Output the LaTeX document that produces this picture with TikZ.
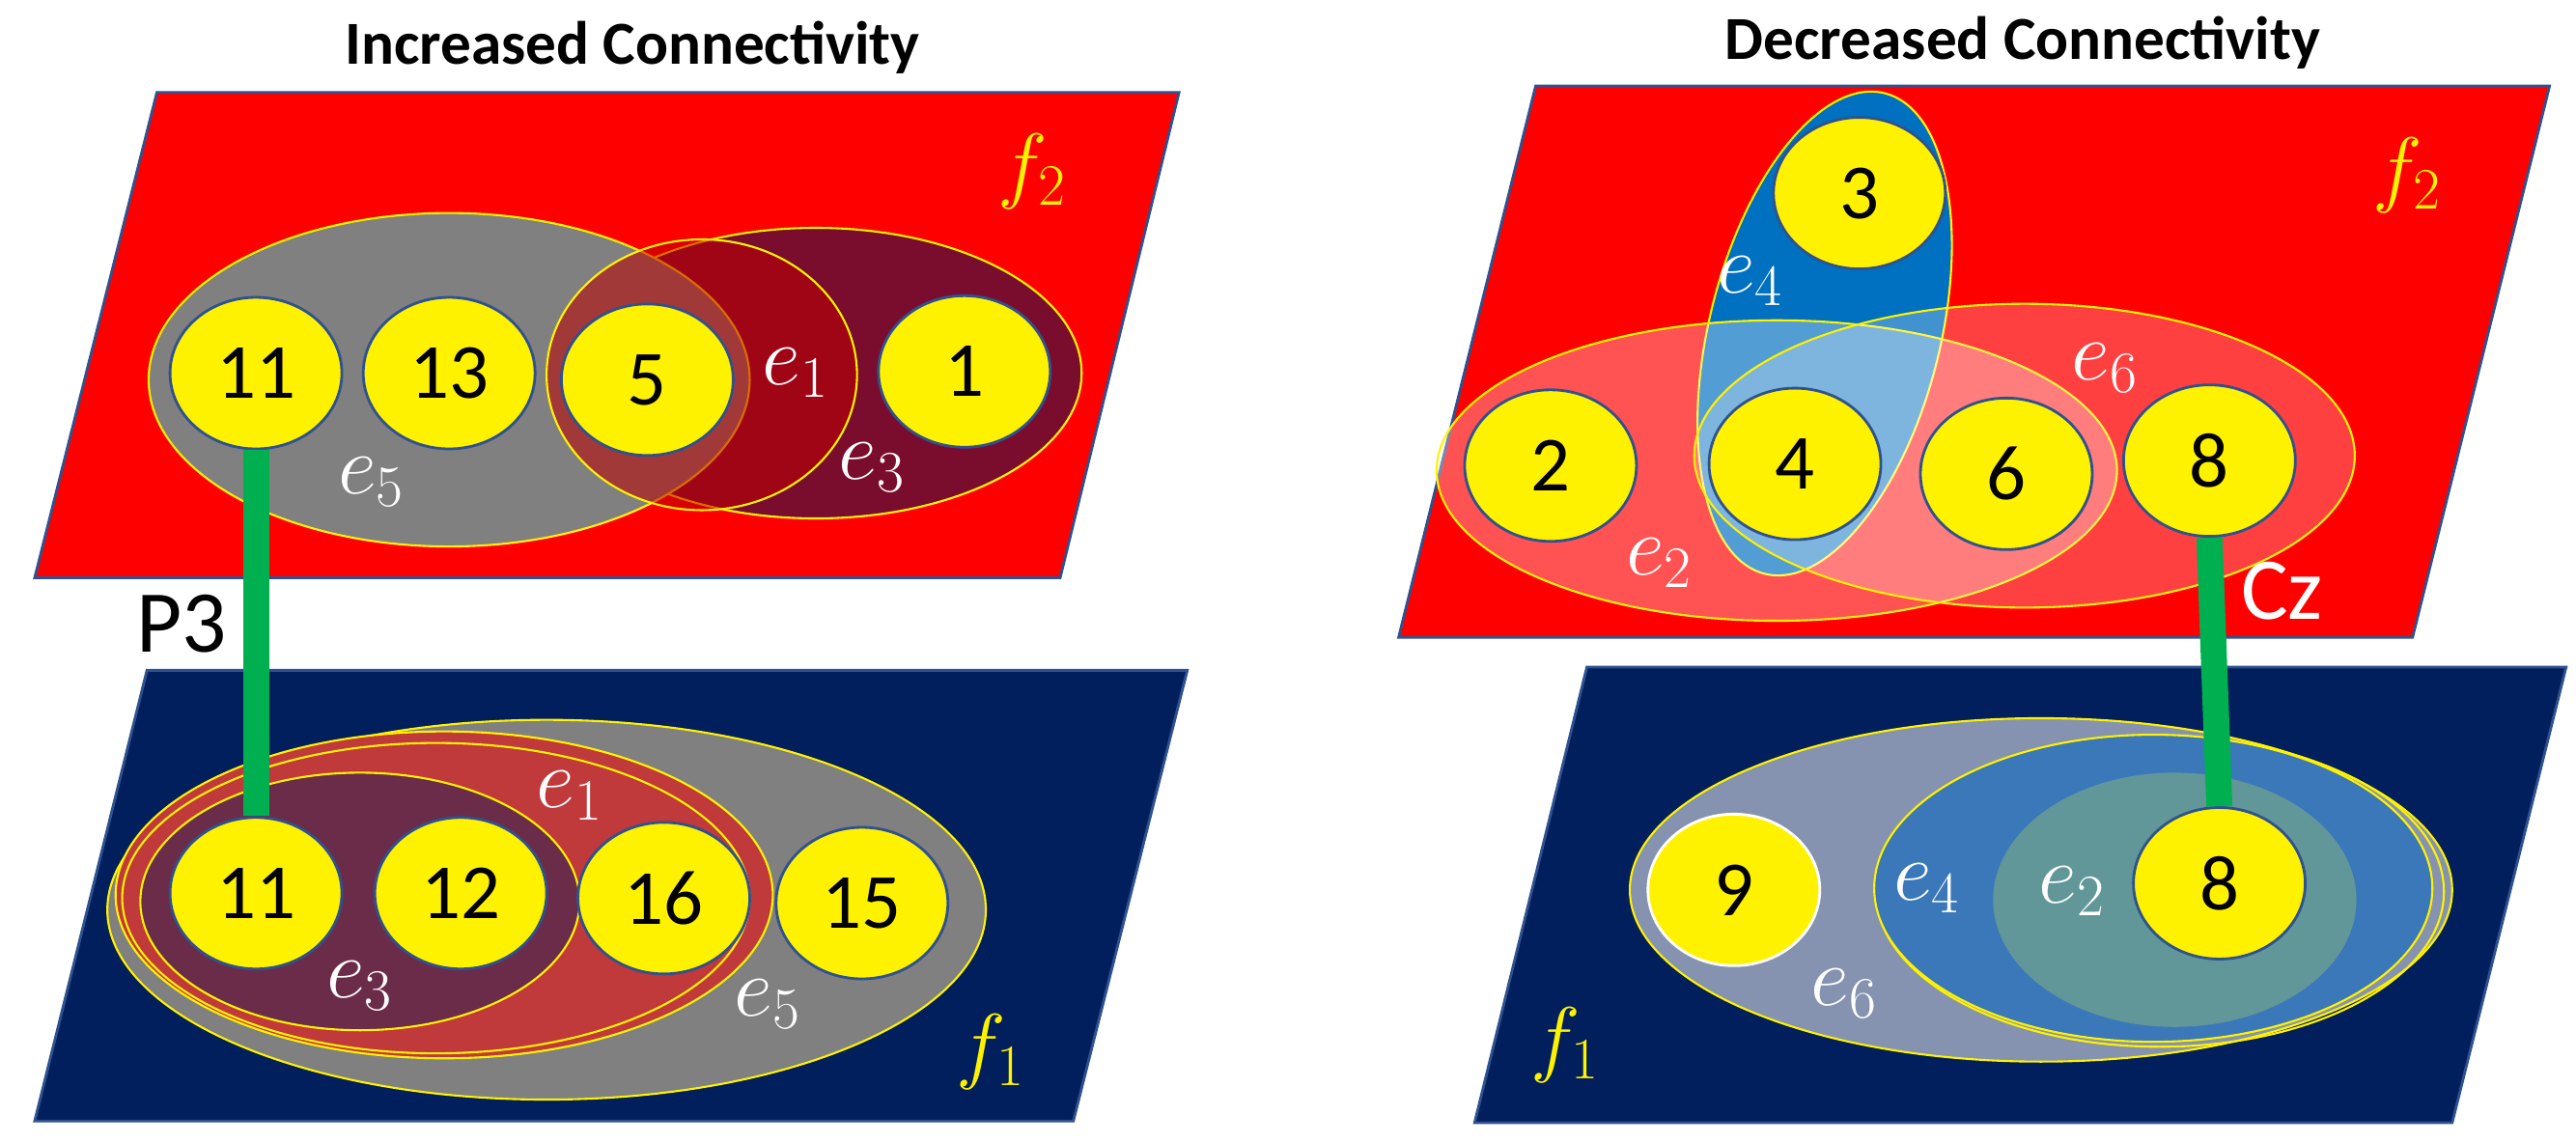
\documentclass[tikz,border=0pt]{standalone}
\usepackage{fontspec}
\setmainfont{Carlito}
\usetikzlibrary{shapes.geometric}
\definecolor{planered}{HTML}{FF0000}
\definecolor{planeblue}{HTML}{001F5C}
\definecolor{rim}{HTML}{2F528F}
\definecolor{maroon}{HTML}{7A0C2E}
\definecolor{plum}{HTML}{6B2C4A}
\definecolor{brick}{HTML}{C0393B}
\definecolor{hblue}{HTML}{0070C0}
\definecolor{midblue}{HTML}{3A78BA}
\definecolor{teal}{HTML}{62979A}
\definecolor{slate}{HTML}{8593B0}
\definecolor{linkgreen}{HTML}{00B050}
\tikzset{
  plane/.style={draw=rim,line width=0.8pt},
  edge/.style={draw=yellow,line width=0.6pt},
  vtx/.style={ellipse,fill=yellow,draw=rim,line width=0.8pt,
    minimum width=1.78cm,minimum height=1.57cm,inner sep=0pt,
    font=\fontsize{23}{23}\selectfont},
  elab/.style={text=white,font=\fontsize{25}{25}\selectfont\bfseries\itshape},
  flab/.style={text=yellow,font=\fontsize{25}{25}\selectfont\bfseries\itshape},
  title/.style={font=\fontsize{18}{18}\selectfont\bfseries},
  link/.style={linkgreen,line width=0.27cm}
}
\begin{document}
\begin{tikzpicture}[x=0.0171cm,y=-0.0171cm]
  \useasboundingbox (0,0) rectangle (1560,692);

  % LEFT: INCREASED
  \node[title] (tl) at (383,29) {Increased Connectivity};
  \fill[planered,plane] (95,56) -- (714,56) -- (642,350) -- (21,350) -- cycle;
  \fill[planeblue,plane] (89,406) -- (719,406) -- (650,679) -- (21,679) -- cycle;
  \node[flab] (lf2) at (625,104) {$f_2$};
  \node[flab] (lf1) at (600,637) {$f_1$};

  \filldraw[maroon,edge] (494,226) ellipse [x radius=161,y radius=88];
  \filldraw[gray,edge] (272,230) ellipse [x radius=182,y radius=101];
  \filldraw[fill=red!75!black,fill opacity=0.55,edge] (425,227) ellipse [x radius=94,y radius=82];
  \node[vtx] (t11) at (155,226) {11};
  \node[vtx] (t13) at (272,226) {13};
  \node[vtx] (t5) at (392,230) {5};
  \node[vtx] (t1) at (584,225) {1};
  \node[elab] (le5) at (225,292) {$e_5$};
  \node[elab] (le1) at (482,226) {$e_1$};
  \node[elab] (le3) at (528,283) {$e_3$};

  \filldraw[gray,edge] (331,551) ellipse [x radius=266,y radius=115];
  \filldraw[brick,edge] (269,542) ellipse [x radius=199,y radius=99];
  \draw[edge] (264,544) ellipse [x radius=190,y radius=94];
  \filldraw[plum,edge] (218,546) ellipse [x radius=133,y radius=78];
  \node[vtx] (b11) at (155,541) {11};
  \node[vtx] (b12) at (279,541) {12};
  \node[vtx] (b16) at (402,544) {16};
  \node[vtx] (b15) at (522,547) {15};
  \node[elab] (lb1) at (345,482) {$e_1$};
  \node[elab] (lb3) at (218,597) {$e_3$};
  \node[elab] (lb5) at (465,608) {$e_5$};

  \draw[link] (t11.south) -- (b11.north);
  \node[font=\fontsize{26}{26}\selectfont] (p3) at (110,378) {P3};

  % RIGHT: DECREASED
  \node[title] (tr) at (1225,26) {Decreased Connectivity};
  \fill[planered,plane] (930,52) -- (1544,52) -- (1461,386) -- (847,386) -- cycle;
  \fill[planeblue,plane] (961,404) -- (1554,404) -- (1485,680) -- (893,680) -- cycle;
  \node[flab] (rf2) at (1458,106) {$f_2$};
  \node[flab] (rf1) at (948,633) {$f_1$};

  \begin{scope}[shift={(1105,202)},rotate=76]
    \filldraw[hblue,edge] (0,0) ellipse [x radius=150,y radius=70];
  \end{scope}
  \filldraw[fill=white,fill opacity=0.32,edge] (1076,285) ellipse [x radius=206,y radius=91];
  \filldraw[fill=white,fill opacity=0.25,edge] (1226,276) ellipse [x radius=200,y radius=92];
  \node[vtx] (r3) at (1126,117) {3};
  \node[vtx] (r2) at (939,282) {2};
  \node[vtx] (r4) at (1087,281) {4};
  \node[vtx] (r6) at (1215,287) {6};
  \node[vtx] (r8) at (1338,279) {8};
  \node[elab] (re4) at (1060,170) {$e_4$};
  \node[elab] (re2) at (1005,341) {$e_2$};
  \node[elab] (re6) at (1275,223) {$e_6$};

  \filldraw[slate,edge] (1236,539) ellipse [x radius=249,y radius=104];
  \draw[edge] (1308,540) ellipse [x radius=172,y radius=94];
  \filldraw[midblue,edge] (1304,538) ellipse [x radius=169,y radius=93];
  \fill[teal] (1317,545) ellipse [x radius=110,y radius=77];
  \node[vtx,draw=white] (r9) at (1050,539) {9};
  \node[vtx] (s8) at (1344,535) {8};
  \node[elab] (se4) at (1167,538) {$e_4$};
  \node[elab] (se2) at (1255,540) {$e_2$};
  \node[elab] (se6) at (1117,602) {$e_6$};

  \draw[link] (r8.south) -- (s8.north);
  \node[text=white,font=\fontsize{26}{26}\selectfont] (cz) at (1382,358) {Cz};
\end{tikzpicture}
\end{document}
